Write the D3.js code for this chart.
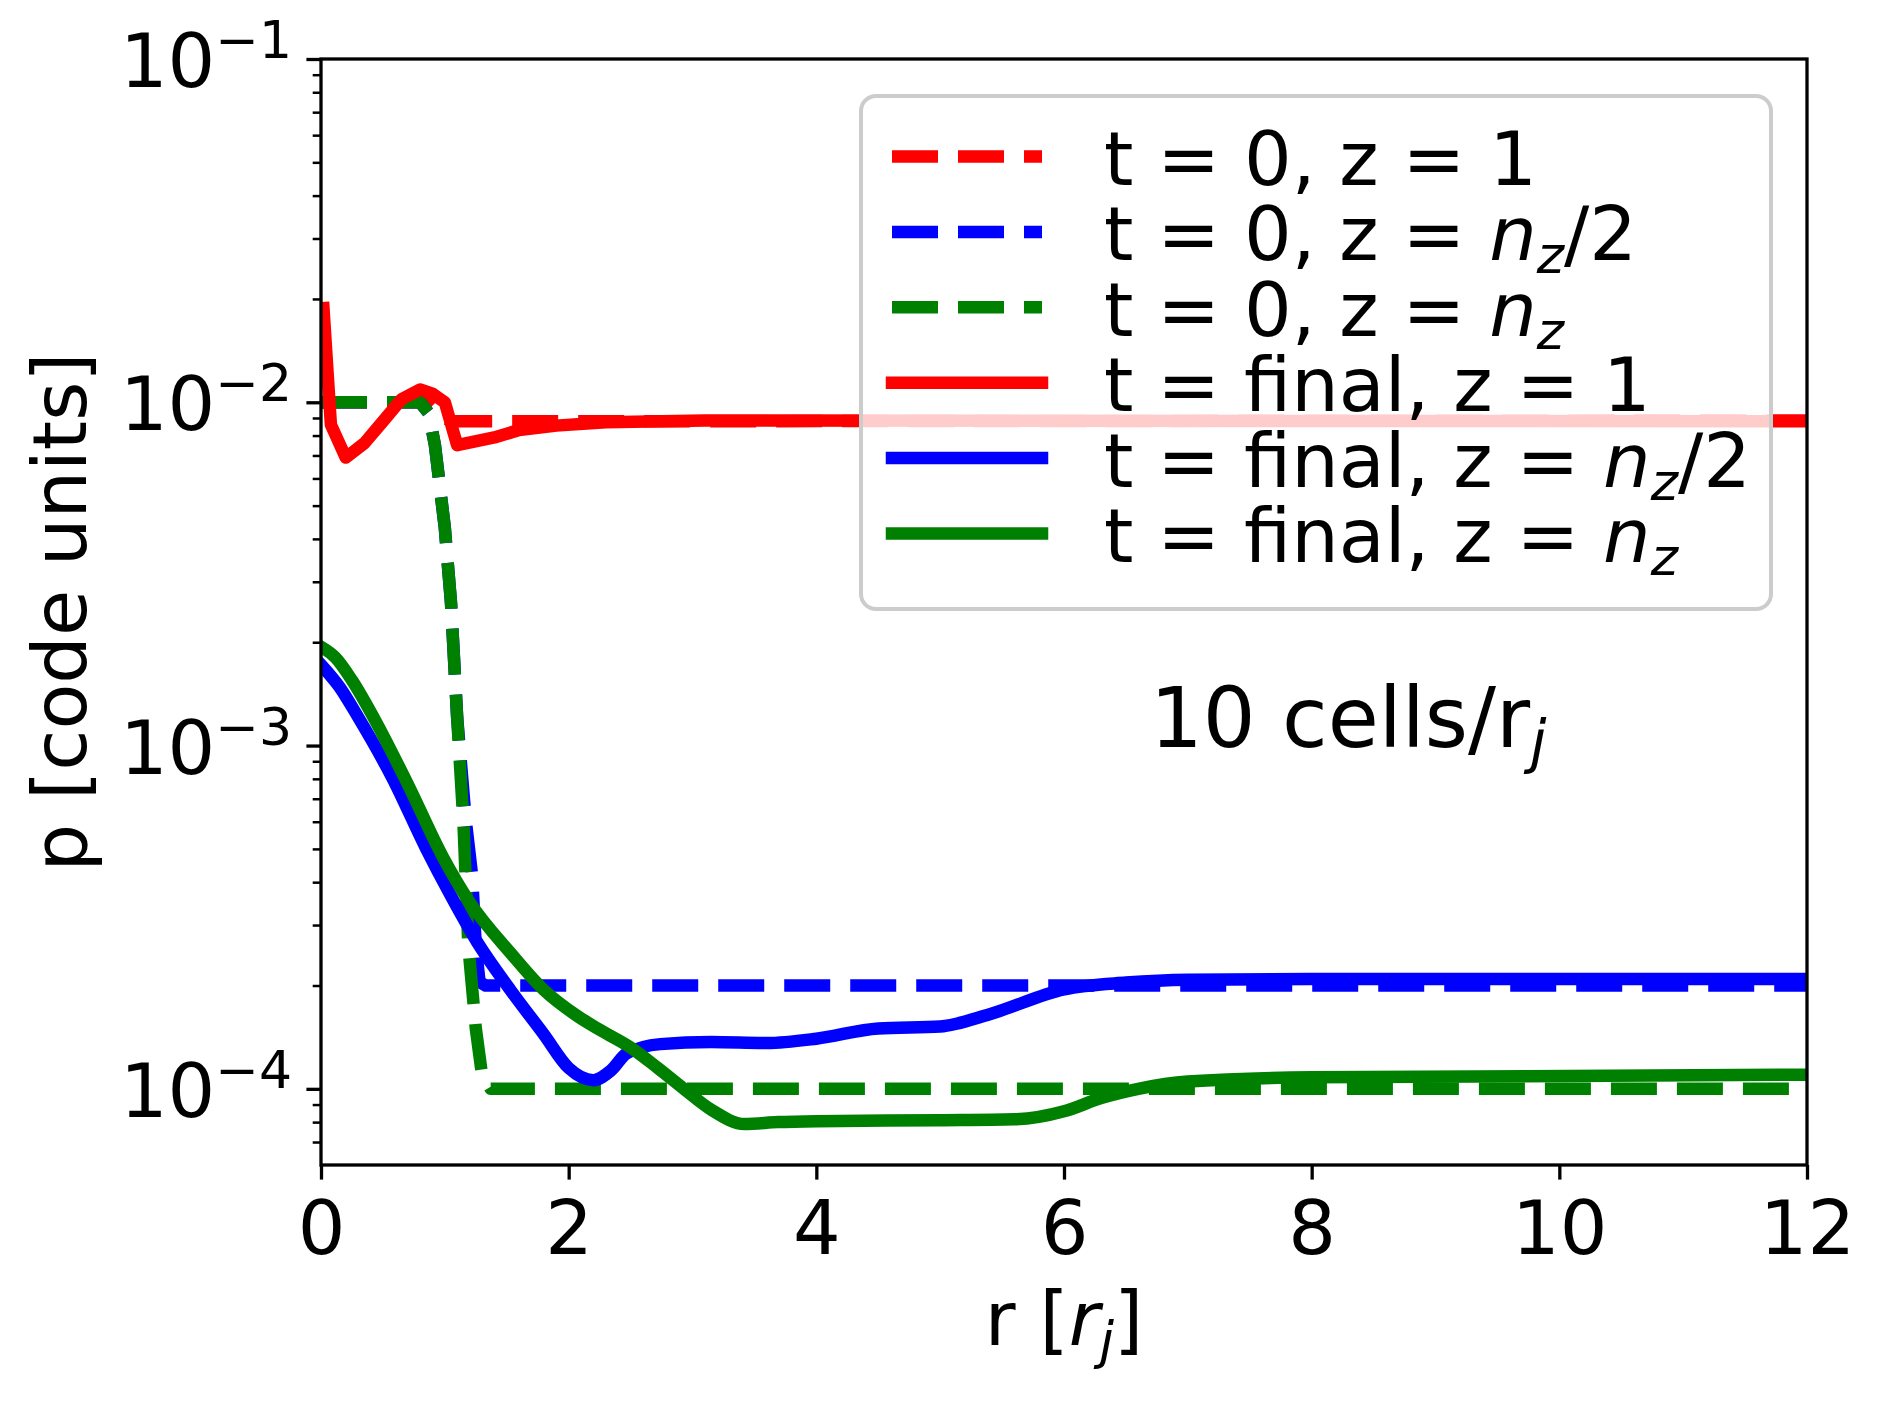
<html>

<head>
  <title>pressure profiles</title>
  <style>
    body { margin: 0; background: #fff; }
    text { font-family: "DejaVu Sans", sans-serif; }
  </style>
</head>

<body>
  <script src="https://d3js.org/d3.v7.min.js"></script>
  <script>
    // pressure vs radius: [r, p]
    var initZ1 = [[0, 1.0e-2], [0.85, 1.0e-2], [0.95, 9.2e-3], [1.05, 8.8e-3], [12, 8.85e-3]];
    var initZhalf = [[0, 1.0e-2], [0.8, 1.0e-2], [0.87, 9.3e-3], [0.92, 7.5e-3], [1.0, 4.3e-3], [1.05, 2.6e-3],
      [1.1, 1.2e-3], [1.17, 6.0e-4], [1.22, 4.2e-4], [1.25, 2.6e-4], [1.28, 2.05e-4], [1.33, 2.0e-4], [12, 2.0e-4]];
    var initZn = [[0, 1.0e-2], [0.8, 1.0e-2], [0.87, 9.3e-3], [0.92, 7.5e-3], [1.0, 4.3e-3], [1.05, 2.6e-3],
      [1.1, 1.2e-3], [1.15, 6.0e-4], [1.19, 2.6e-4], [1.25, 1.5e-4], [1.3, 1.1e-4], [1.37, 1.0e-4], [12, 1.0e-4]];
    var finalZ1 = [[0.02, 1.88e-2], [0.08, 8.6e-3], [0.2, 6.9e-3], [0.35, 7.6e-3], [0.5, 8.8e-3], [0.65, 1.02e-2],
      [0.8, 1.09e-2], [0.9, 1.06e-2], [1.0, 1.0e-2], [1.1, 7.5e-3], [1.4, 7.9e-3], [1.6, 8.3e-3], [1.9, 8.55e-3],
      [2.3, 8.75e-3], [3.1, 8.85e-3], [12, 8.8e-3]];
    var finalZhalf = [[0, 1.72e-3], [0.15, 1.48e-3], [0.3, 1.21e-3], [0.58, 8.0e-4], [0.85, 5.0e-4], [1.04, 3.7e-4],
      [1.26, 2.68e-4], [1.53, 1.94e-4], [1.8, 1.44e-4], [2.0, 1.15e-4], [2.2, 1.06e-4], [2.34, 1.13e-4],
      [2.47, 1.27e-4], [2.74, 1.35e-4], [3.15, 1.37e-4], [3.6, 1.36e-4], [4.0, 1.4e-4], [4.5, 1.5e-4],
      [5.0, 1.52e-4], [5.4, 1.65e-4], [6.0, 1.95e-4], [6.5, 2.04e-4], [7.0, 2.08e-4], [8.0, 2.09e-4], [12, 2.09e-4]];
    var finalZn = [[0, 1.94e-3], [0.12, 1.8e-3], [0.25, 1.55e-3], [0.44, 1.18e-3], [0.71, 7.6e-4], [0.985, 4.73e-4],
      [1.2, 3.5e-4], [1.53, 2.49e-4], [1.8, 1.94e-4], [2.07, 1.63e-4], [2.26, 1.48e-4], [2.5, 1.32e-4],
      [2.72, 1.15e-4], [2.93, 1.0e-4], [3.15, 8.7e-5], [3.42, 7.9e-5], [3.69, 8.0e-5], [4.0, 8.05e-5],
      [5.0, 8.1e-5], [5.6, 8.15e-5], [6.0, 8.6e-5], [6.3, 9.4e-5], [6.6, 1.0e-4], [7.0, 1.05e-4], [8.0, 1.08e-4],
      [12, 1.1e-4]];

    var labels = ["t = 0, z = 1", "t = 0, z = $n_z$/2", "t = 0, z = $n_z$",
      "t = final, z = 1", "t = final, z = $n_z$/2", "t = final, z = $n_z$"];
    var xTicks = [0, 2, 4, 6, 8, 10, 12];
    var yTicks = [1e-4, 1e-3, 1e-2, 1e-1];
    var yExp = ["\u22124", "\u22123", "\u22122", "\u22121"];

    var series = [
      { data: initZ1, color: "red", dashed: true },
      { data: initZhalf, color: "blue", dashed: true },
      { data: initZn, color: "green", dashed: true },
      { data: finalZ1, color: "red", dashed: false, linear: true },
      { data: finalZhalf, color: "blue", dashed: false },
      { data: finalZn, color: "green", dashed: false }
    ];

    var margin = { top: 59, right: 80, bottom: 236, left: 321 };
    var W = 1887, H = 1401;
    var width = W - margin.left - margin.right;
    var height = H - margin.top - margin.bottom;
    var lw = 12.5;
    var fs = 75;

    var svgRoot = d3.select("body").append("svg")
      .attr("width", W)
      .attr("height", H);
    var svg = svgRoot.append("g")
      .attr("transform", "translate(" + margin.left + "," + margin.top + ")");

    var x = d3.scaleLinear().domain([0, 12]).range([0, width]);
    var y = d3.scaleLog().domain([6e-5, 1e-1]).range([height, 0]);

    svg.append("clipPath").attr("id", "plotclip")
      .append("rect").attr("width", width).attr("height", height);

    var plot = svg.append("g").attr("clip-path", "url(#plotclip)");

    series.forEach(function (s) {
      var line = d3.line()
        .x(function (d) { return x(d[0]); })
        .y(function (d) { return y(d[1]); })
        .curve(s.dashed || s.linear ? d3.curveLinear : d3.curveMonotoneX);
      plot.append("path")
        .datum(s.data)
        .attr("d", line)
        .attr("fill", "none")
        .attr("stroke", s.color)
        .attr("stroke-width", lw)
        .attr("stroke-linejoin", "round")
        .attr("stroke-linecap", s.dashed ? "butt" : "square")
        .attr("stroke-dasharray", s.dashed ? "46,20" : null);
    });

    // x axis
    var xAxis = d3.axisBottom(x).tickValues(xTicks).tickSize(14.6).tickFormat(d3.format("d"));
    var gx = svg.append("g")
      .attr("transform", "translate(0," + height + ")")
      .call(xAxis);
    gx.select(".domain").remove();
    gx.selectAll("line").attr("stroke", "#000").attr("stroke-width", 3.3);
    gx.selectAll("text")
      .attr("y", 89).attr("dy", 0)
      .attr("fill", "#000")
      .style("font-size", fs + "px")
      .style("font-family", "DejaVu Sans");

    // y axis, major and minor ticks
    var minor = [];
    [1e-5, 1e-4, 1e-3, 1e-2].forEach(function (b) {
      for (var k = 2; k <= 9; k++) {
        var v = b * k;
        if (v > 6.5e-5 && v < 1e-1) minor.push(v);
      }
    });
    var gyMinor = svg.append("g").call(d3.axisLeft(y).tickValues(minor).tickSize(8.3).tickFormat(""));
    gyMinor.select(".domain").remove();
    gyMinor.selectAll("line").attr("stroke", "#000").attr("stroke-width", 2.5);

    var gy = svg.append("g").call(d3.axisLeft(y).tickValues(yTicks).tickSize(14.6).tickFormat(""));
    gy.select(".domain").remove();
    gy.selectAll("line").attr("stroke", "#000").attr("stroke-width", 3.3);

    yTicks.forEach(function (v, i) {
      var t = svg.append("text")
        .attr("x", -29)
        .attr("y", y(v) + 28)
        .attr("text-anchor", "end")
        .style("font-size", fs + "px");
      t.append("tspan").text("10");
      t.append("tspan").attr("dy", -29).style("font-size", "52px").text(yExp[i]);
    });

    // frame
    svg.append("rect")
      .attr("width", width).attr("height", height)
      .attr("fill", "none").attr("stroke", "#000").attr("stroke-width", 3.3);

    // axis labels
    var xl = svgRoot.append("text")
      .attr("x", margin.left + width / 2)
      .attr("y", 1345)
      .attr("text-anchor", "middle")
      .style("font-size", fs + "px");
    xl.append("tspan").text("r [");
    xl.append("tspan").style("font-style", "italic").text("r");
    xl.append("tspan").attr("dy", 13).style("font-size", "52px").style("font-style", "italic").text("j");
    xl.append("tspan").attr("dy", -13).text("]");

    svgRoot.append("text")
      .attr("transform", "translate(86," + (margin.top + height / 2) + ") rotate(-90)")
      .attr("text-anchor", "middle")
      .style("font-size", fs + "px")
      .text("p [code units]");

    // annotation
    var ann = svgRoot.append("text")
      .attr("x", 1150).attr("y", 747)
      .style("font-size", "83px");
    ann.append("tspan").text("10 cells/r");
    ann.append("tspan").attr("dy", 15).style("font-size", "58px").style("font-style", "italic").text("j");

    // legend
    var leg = svgRoot.append("g");
    leg.append("rect")
      .attr("x", 861).attr("y", 96)
      .attr("width", 910).attr("height", 513)
      .attr("rx", 15).attr("ry", 15)
      .attr("fill", "rgba(255,255,255,0.8)")
      .attr("stroke", "#cccccc")
      .attr("stroke-width", 4);

    series.forEach(function (s, i) {
      var cy = 156.5 + i * 75.4;
      leg.append("line")
        .attr("x1", 892).attr("x2", 1042)
        .attr("y1", cy).attr("y2", cy)
        .attr("stroke", s.color)
        .attr("stroke-width", lw)
        .attr("stroke-linecap", s.dashed ? "butt" : "square")
        .attr("stroke-dasharray", s.dashed ? "46,20" : null);

      var t = leg.append("text")
        .attr("x", 1104).attr("y", cy + 28.5)
        .style("font-size", fs + "px");
      var parts = labels[i].split("$n_z$");
      t.append("tspan").text(parts[0]);
      if (parts.length > 1) {
        t.append("tspan").style("font-style", "italic").text("n");
        t.append("tspan").attr("dy", 13).style("font-size", "52px").style("font-style", "italic").text("z");
        t.append("tspan").attr("dy", -13).text(parts[1]);
      }
    });
  </script>
</body>

</html>
